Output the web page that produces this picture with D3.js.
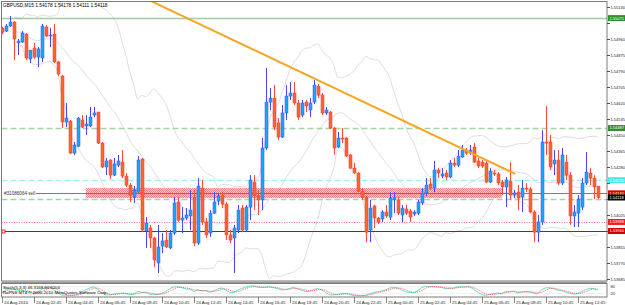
<!DOCTYPE html>
<html><head><meta charset="utf-8">
<script src="https://cdn.jsdelivr.net/npm/d3@7"></script>
<style>body{margin:0;background:#fff}svg{display:block}text{font-family:"Liberation Sans",Arial,sans-serif}</style>
</head><body><svg id="c" width="625" height="305"></svg>
<script>
const titleText = "GBPUSD,M15  1.54178 1.54178 1.54111 1.54118";
const opens = [1.55018,1.55002,1.55029,1.55050,1.54939,1.54944,1.54986,1.54854,1.54912,1.54864,
1.54859,1.55024,1.54976,1.54986,1.54838,1.54763,1.54519,1.54524,1.54354,1.54391,
1.54530,1.54498,1.54498,1.54556,1.54572,1.54407,1.54280,1.54317,1.54237,1.54290,
1.54306,1.54232,1.54184,1.54120,1.54147,1.54322,1.53940,1.53956,1.53903,1.53770,
1.53860,1.53892,1.53850,1.53929,1.54094,1.53998,1.54009,1.54020,1.54120,1.53876,
1.54168,1.53988,1.53929,1.54035,1.54099,1.54131,1.54083,1.53919,1.53903,1.53945,
1.54062,1.53945,1.54067,1.54200,1.54126,1.54105,1.54381,1.54625,1.54646,1.54514,
1.54439,1.54567,1.54657,1.54673,1.54620,1.54556,1.54625,1.54583,1.54625,1.54710,
1.54662,1.54567,1.54572,1.54487,1.54386,1.54434,1.54434,1.54344,1.54274,1.54248,
1.54152,1.54120,1.53945,1.54073,1.54009,1.54004,1.54041,1.54014,1.54105,1.54105,
1.54025,1.54057,1.54046,1.54030,1.54035,1.54089,1.54142,1.54190,1.54168,1.54264,
1.54232,1.54248,1.54227,1.54301,1.54290,1.54333,1.54365,1.54354,1.54386,1.54312,
1.54306,1.54301,1.54200,1.54248,1.54243,1.54200,1.54174,1.54205,1.54131,1.54147,
1.54120,1.54168,1.54163,1.54041,1.53934,1.53988,1.54413,1.54413,1.54296,1.54317,
1.54195,1.54306,1.54237,1.54020,1.54035,1.54067,1.54195,1.54248,1.54221,1.54178];
const highs = [1.55024,1.55040,1.55082,1.55055,1.54960,1.55002,1.54992,1.54901,1.54939,1.54917,
1.55040,1.55034,1.55018,1.55040,1.54843,1.54769,1.54620,1.54530,1.54413,1.54545,
1.54556,1.54556,1.54599,1.54599,1.54572,1.54413,1.54328,1.54322,1.54328,1.54344,
1.54370,1.54248,1.54195,1.54179,1.54338,1.54328,1.54014,1.53972,1.53908,1.53972,
1.53929,1.53945,1.53945,1.54120,1.54120,1.54067,1.54062,1.54158,1.54158,1.54221,
1.54211,1.54009,1.54051,1.54147,1.54142,1.54147,1.54094,1.53945,1.53972,1.54078,
1.54078,1.54078,1.54237,1.54237,1.54158,1.54434,1.54806,1.54700,1.54715,1.54540,
1.54609,1.54715,1.54731,1.54731,1.54636,1.54636,1.54636,1.54646,1.54742,1.54721,
1.54673,1.54599,1.54577,1.54492,1.54466,1.54487,1.54439,1.54349,1.54301,1.54253,
1.54168,1.54126,1.54105,1.54078,1.54014,1.54051,1.54078,1.54147,1.54147,1.54120,
1.54078,1.54078,1.54057,1.54051,1.54105,1.54168,1.54221,1.54221,1.54312,1.54274,
1.54274,1.54264,1.54317,1.54328,1.54370,1.54397,1.54381,1.54397,1.54407,1.54328,
1.54317,1.54317,1.54274,1.54264,1.54253,1.54211,1.54227,1.54306,1.54158,1.54184,
1.54211,1.54195,1.54174,1.54051,1.54025,1.54476,1.54604,1.54450,1.54370,1.54370,
1.54381,1.54344,1.54253,1.54078,1.54131,1.54221,1.54360,1.54274,1.54237,1.54178];
const lows = [1.54986,1.54997,1.55024,1.54848,1.54875,1.54939,1.54848,1.54832,1.54854,1.54811,
1.54838,1.54970,1.54917,1.54832,1.54763,1.54487,1.54492,1.54349,1.54344,1.54386,
1.54487,1.54450,1.54492,1.54545,1.54402,1.54274,1.54237,1.54216,1.54232,1.54280,
1.54221,1.54174,1.54094,1.54089,1.54142,1.53934,1.53850,1.53850,1.53749,1.53717,
1.53823,1.53850,1.53844,1.53919,1.53988,1.53929,1.53998,1.53945,1.53860,1.53865,
1.53972,1.53903,1.53908,1.54030,1.54078,1.54062,1.53892,1.53876,1.53717,1.53929,
1.53934,1.53934,1.53998,1.54051,1.54025,1.54051,1.54370,1.54583,1.54476,1.54423,
1.54434,1.54530,1.54636,1.54609,1.54530,1.54545,1.54572,1.54545,1.54614,1.54646,
1.54556,1.54556,1.54482,1.54344,1.54381,1.54407,1.54333,1.54269,1.54243,1.54147,
1.54105,1.53881,1.53881,1.53956,1.53977,1.53988,1.54009,1.53998,1.54035,1.54025,
1.53988,1.54025,1.53988,1.54020,1.54025,1.54078,1.54126,1.54158,1.54147,1.54221,
1.54221,1.54211,1.54221,1.54280,1.54280,1.54328,1.54344,1.54344,1.54301,1.54274,
1.54274,1.54195,1.54195,1.54232,1.54184,1.54131,1.54067,1.54105,1.54115,1.54051,
1.54041,1.54147,1.54035,1.53881,1.53881,1.53972,1.54344,1.54264,1.54237,1.54184,
1.54184,1.54211,1.53972,1.53961,1.53961,1.54051,1.54184,1.54184,1.54110,1.54111];
const closes = [1.54997,1.55029,1.55050,1.54960,1.54949,1.54992,1.54859,1.54901,1.54864,1.54907,
1.55029,1.54976,1.54981,1.54838,1.54774,1.54519,1.54540,1.54354,1.54397,1.54540,
1.54492,1.54508,1.54545,1.54567,1.54407,1.54280,1.54312,1.54237,1.54296,1.54312,
1.54232,1.54184,1.54131,1.54158,1.54317,1.53945,1.53982,1.53903,1.53786,1.53855,
1.53887,1.53855,1.53929,1.54089,1.53998,1.54009,1.54025,1.54051,1.53876,1.54179,
1.53988,1.53919,1.54035,1.54094,1.54126,1.54083,1.53919,1.53892,1.53956,1.54051,
1.53945,1.54067,1.54211,1.54126,1.54105,1.54381,1.54625,1.54646,1.54492,1.54439,
1.54567,1.54657,1.54673,1.54620,1.54545,1.54620,1.54604,1.54620,1.54715,1.54662,
1.54567,1.54583,1.54487,1.54381,1.54434,1.54429,1.54338,1.54274,1.54248,1.54152,
1.54120,1.53934,1.54062,1.54009,1.53988,1.54041,1.54020,1.54115,1.54120,1.54035,
1.54062,1.54035,1.54014,1.54041,1.54094,1.54142,1.54184,1.54168,1.54264,1.54248,
1.54243,1.54227,1.54301,1.54290,1.54338,1.54370,1.54354,1.54370,1.54306,1.54285,
1.54285,1.54200,1.54259,1.54243,1.54195,1.54174,1.54211,1.54131,1.54142,1.54115,
1.54168,1.54163,1.54041,1.53934,1.53988,1.54413,1.54407,1.54280,1.54317,1.54195,
1.54344,1.54237,1.54020,1.54041,1.54110,1.54195,1.54253,1.54221,1.54174,1.54118];
const priceTicks = [1.55130,1.55045,1.54960,1.54875,1.54790,1.54705,1.54620,1.54535,1.54450,1.54365,1.54280,1.54195,1.54110,1.54025,1.53940,1.53855,1.53770,1.53685];
const timeLabels = ["24 Aug 2010","24 Aug 02:45","24 Aug 04:45","24 Aug 06:45","24 Aug 08:45","24 Aug 10:45","24 Aug 12:45","24 Aug 14:45","24 Aug 16:45","24 Aug 18:45","24 Aug 20:45","24 Aug 22:45","25 Aug 00:45","25 Aug 02:45","25 Aug 04:45","25 Aug 06:45","25 Aug 08:45","25 Aug 10:45","25 Aug 12:45"];
const timeLabelBars = [0,8,16,24,32,40,48,56,64,72,80,88,96,104,112,120,128,136,144];
const levelPrices = [1.55071,1.54487,1.54210,1.54110,1.53988,1.53940];
const orderPrice = 1.54140;
const orderText = "#31086064 sell";
const currentPrice = 1.54118;
const zoneBars = [21,125];
const zonePrices = [1.54168,1.54115];
const trendBars = [36,128.4];
const trendPrices = [1.55175,1.54243];
const stochLevels = [80,20];
const stochText = "Stoch(5,3,3) 46.3168 60.6204";
const footerText = "RoPNS MT4 \u00a9 2000-2010 MetaQuotes Software Corp.";

const svg = d3.select("#c");
const n = closes.length;
const PX0=1.5, PX1=607, PY0=1.5, PY1=281;
const x = d3.scaleLinear().domain([0,1]).range([1.7,5.7]);
const y = d3.scaleLinear().domain([priceTicks[0], priceTicks[priceTicks.length-1]]).range([7,279]);
const ys = d3.scaleLinear().domain([0,100]).range([296,284.5]);

svg.append("rect").attr("width",625).attr("height",305).attr("fill","#fff");
const defs = svg.append("defs");
defs.append("clipPath").attr("id","cp").append("rect").attr("x",PX0).attr("y",PY0).attr("width",PX1-PX0).attr("height",PY1-PY0);
defs.append("clipPath").attr("id","cps").append("rect").attr("x",PX0).attr("y",283.5).attr("width",PX1-PX0).attr("height",13.5);
const pat = defs.append("pattern").attr("id","hatch").attr("width",2).attr("height",2).attr("patternUnits","userSpaceOnUse");
pat.append("rect").attr("width",2).attr("height",2).attr("fill","#ffc4c4");
pat.append("rect").attr("width",1).attr("height",1).attr("fill","#f06a6a");
pat.append("rect").attr("x",1).attr("y",1).attr("width",1).attr("height",1).attr("fill","#f06a6a");

const g = svg.append("g").attr("clip-path","url(#cp)");

// Bollinger bands (20,2) computed from the closes
const bb = closes.map((_,i)=>{const w=closes.slice(Math.max(0,i-19),i+1);const m=d3.mean(w);const sd=Math.sqrt(d3.mean(w,v=>(v-m)*(v-m)));return {i,m,u:m+2*sd,l:m-2*sd};}).slice(3);
["u","m","l"].forEach(k=>{
  g.append("path").datum(bb).attr("fill","none").attr("stroke","#d4d4d4").attr("stroke-width",0.8)
   .attr("d",d3.line().x(d=>x(d.i)).y(d=>y(d[k])).curve(d3.curveMonotoneX));
});

// horizontal levels
const lvlStyle = [
 {c:"#3a9e3a",w:1.6,dash:"1,1"},
 {c:"#a6d4a6",w:1.3,dash:"6,3"},
 {c:"#9ef2f2",w:1.5,dash:"6,3"},
 {c:"#a6d4a6",w:1.3,dash:"6,3"},
 {c:"#ff4a4a",w:0.8,dash:"1,1.5"},
 {c:"#d80000",w:1.2,dash:null}
];
levelPrices.forEach((p,k)=>{
  const yy=Math.round(y(p))+0.5;
  g.append("line").attr("x1",PX0).attr("x2",PX1).attr("y1",yy).attr("y2",yy)
   .attr("stroke",lvlStyle[k].c).attr("stroke-width",lvlStyle[k].w).attr("stroke-dasharray",lvlStyle[k].dash);
});
// zone
g.append("rect").attr("x",x(zoneBars[0])).attr("width",x(zoneBars[1])-x(zoneBars[0]))
 .attr("y",y(zonePrices[0])).attr("height",y(zonePrices[1])-y(zonePrices[0])).attr("fill","url(#hatch)").attr("opacity",0.85);
// order line
const oy=Math.round(y(orderPrice))+0.5;
g.append("line").attr("x1",36).attr("x2",PX1).attr("y1",oy).attr("y2",oy).attr("stroke","#ff3030").attr("stroke-width",0.9);
g.append("text").attr("x",4).attr("y",oy).attr("dy","0.35em").attr("font-size",4.6).attr("fill","#333").text(orderText);
// red solid marker
g.append("rect").attr("x",2).attr("y",Math.round(y(levelPrices[5]))-1).attr("width",3).attr("height",3).attr("fill","#fff").attr("stroke","#d80000").attr("stroke-width",0.8);

// candles
const cg = g.append("g");
for(let i=0;i<n;i++){
  const cx=Math.round(x(i))+0.5;
  const up=closes[i]>=opens[i];
  const wc= up?"#4646ff":"#ff4a3a";
  cg.append("line").attr("x1",cx).attr("x2",cx).attr("y1",y(highs[i])).attr("y2",y(lows[i])).attr("stroke",wc).attr("stroke-width",1);
  const t=Math.min(y(opens[i]),y(closes[i])), b=Math.max(y(opens[i]),y(closes[i]));
  cg.append("rect").attr("x",cx-1.5).attr("width",3).attr("y",t).attr("height",Math.max(1,b-t))
    .attr("fill",up?"#1aa6f7":"#ff6432").attr("stroke",up?"#2a5cff":"#ff3a1a").attr("stroke-width",0.5);
}
// trendline
g.append("line").attr("x1",x(trendBars[0])).attr("y1",y(trendPrices[0])).attr("x2",x(trendBars[1])).attr("y2",y(trendPrices[1]))
 .attr("stroke","#f5a623").attr("stroke-width",2);

// title
svg.append("text").attr("x",3).attr("y",7).attr("font-size",4.8).attr("fill","#000").text(titleText);

// frames
svg.append("rect").attr("x",PX0).attr("y",PY0).attr("width",PX1-PX0).attr("height",PY1-PY0).attr("fill","none").attr("stroke","#7a7a7a").attr("stroke-width",1);
svg.append("rect").attr("x",PX0).attr("y",281.5).attr("width",PX1-PX0).attr("height",1.5).attr("fill","#9a9a9a");
svg.append("rect").attr("x",PX0).attr("y",283.5).attr("width",PX1-PX0).attr("height",13.5).attr("fill","none").attr("stroke","#7a7a7a").attr("stroke-width",1);

// price label boxes (drawn over axis)
const boxes = [
 {p:levelPrices[0],bg:"#2f8f2f",fg:"#fff"},
 {p:levelPrices[1],bg:"#2f8f2f",fg:"#fff"},
 {p:levelPrices[2],bg:"#44eaf0",fg:"#fff"},
 {p:orderPrice,bg:"#e00000",fg:"#fff"},
 {p:currentPrice,bg:"#000",fg:"#fff"},
 {p:levelPrices[4],bg:"#ff1a1a",fg:"#fff"},
 {p:levelPrices[5],bg:"#d00000",fg:"#fff"}
];
// price axis
priceTicks.forEach(p=>{
  const yy=Math.round(y(p))+0.5;
  svg.append("line").attr("x1",PX1).attr("x2",PX1+3).attr("y1",yy).attr("y2",yy).attr("stroke","#555");
  const hidden = boxes.some(b=>Math.abs(y(b.p)-y(p))<5.5);
  if(!hidden) svg.append("text").attr("x",610.5).attr("y",yy).attr("dy","0.35em").attr("font-size",4).attr("fill","#222").text(p.toFixed(5));
});
boxes.forEach(b=>{
  const yy=y(b.p);
  svg.append("rect").attr("x",608).attr("y",yy-3).attr("width",17).attr("height",6).attr("fill",b.bg);
  svg.append("text").attr("x",609.5).attr("y",yy).attr("dy","0.35em").attr("font-size",4).attr("fill",b.fg).text(b.p.toFixed(5));
});

// time axis
timeLabels.forEach((t,k)=>{
  const xx=Math.round(x(timeLabelBars[k]))+0.5;
  svg.append("line").attr("x1",xx).attr("x2",xx).attr("y1",297).attr("y2",303).attr("stroke","#555").attr("stroke-width",0.7);
  svg.append("text").attr("x",xx+1.5).attr("y",303.5).attr("font-size",4.3).attr("fill","#222").text(t);
});

// stochastic (5,3,3) computed from the bars
const raw = closes.map((c,i)=>{const s=Math.max(0,i-4);const hh=d3.max(highs.slice(s,i+1)),ll=d3.min(lows.slice(s,i+1));return {num:c-ll,den:hh-ll};});
const K = raw.map((_,i)=>{let a=0,b=0;for(let j=Math.max(0,i-2);j<=i;j++){a+=raw[j].num;b+=raw[j].den;}return b?a/b*100:50;});
const D = K.map((_,i)=>d3.mean(K.slice(Math.max(0,i-2),i+1)));
const sg = svg.append("g").attr("clip-path","url(#cps)");
stochLevels.forEach(v=>{
  sg.append("line").attr("x1",PX0).attr("x2",PX1).attr("y1",ys(v)).attr("y2",ys(v)).attr("stroke","#c8c8c8").attr("stroke-width",0.6).attr("stroke-dasharray","1,1");
  svg.append("text").attr("x",610.5).attr("y",ys(v)).attr("dy","0.35em").attr("font-size",4).attr("fill","#222").text(v);
});
sg.append("path").datum(K).attr("fill","none").attr("stroke","#5fd6c0").attr("stroke-width",0.9).attr("d",d3.line().x((d,i)=>x(i)).y(d=>ys(d)));
sg.append("path").datum(D).attr("fill","none").attr("stroke","#ff4040").attr("stroke-width",0.8).attr("stroke-dasharray","1,1").attr("d",d3.line().x((d,i)=>x(i)).y(d=>ys(d)));
svg.append("text").attr("x",3).attr("y",288.5).attr("font-size",4.3).attr("fill","#000").text(stochText);
svg.append("text").attr("x",3).attr("y",294).attr("font-size",4.3).attr("fill","#000").text(footerText);
</script></body></html>
